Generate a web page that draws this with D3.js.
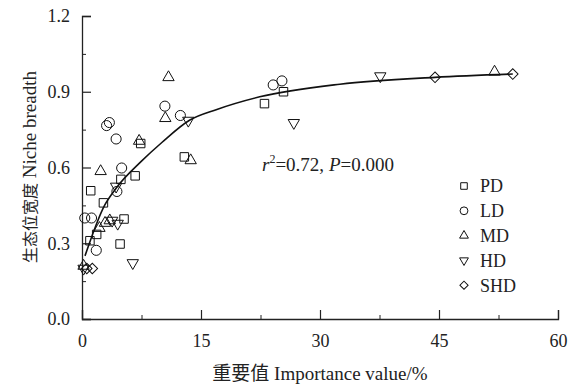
<!DOCTYPE html>
<html><head><meta charset="utf-8">
<script src="https://cdn.jsdelivr.net/npm/d3@7"></script>
<style>body{margin:0;background:#fff}svg{display:block}</style>
</head><body>
<script>
// ---- data ----
const xTicks = [0, 15, 30, 45, 60];
const yTicks = [0.0, 0.3, 0.6, 0.9, 1.2];
const seriesNames = ["PD", "LD", "MD", "HD", "SHD"];
const pd  = [[1.1,0.508],[2.7,0.46],[1.0,0.31],[1.85,0.335],[4.8,0.297],[5.3,0.396],[4.9,0.553],[6.7,0.567],[7.4,0.695],[12.9,0.642],[23.0,0.853],[25.4,0.90]];
const ld  = [[0.35,0.40],[1.2,0.40],[1.8,0.272],[3.1,0.766],[3.45,0.778],[4.3,0.713],[4.4,0.505],[5.0,0.598],[10.45,0.843],[12.4,0.806],[24.1,0.927],[25.2,0.943]];
const md  = [[2.35,0.585],[7.2,0.705],[10.5,0.795],[10.9,0.957],[13.7,0.628],[52.0,0.979],[2.2,0.36],[2.9,0.38],[3.5,0.39],[0.2,0.21]];
const hd  = [[0.2,0.20],[4.3,0.525],[3.8,0.39],[4.5,0.378],[6.4,0.222],[13.4,0.786],[26.7,0.777],[37.6,0.962]];
const shd = [[0.6,0.20],[1.3,0.20],[44.5,0.957],[54.3,0.970]];
const fitX = [0.38, 2.86, 4.3, 7.5, 10.1, 13.6, 17, 22.4, 32.5, 44.5, 54.3];
const fitY = [0.250, 0.451, 0.518, 0.625, 0.700, 0.788, 0.830, 0.880, 0.930, 0.957, 0.970];

const W = 568, H = 387;
const svg = d3.select("body").append("svg").attr("width", W).attr("height", H);
const x = d3.scaleLinear().domain([0, 60]).range([82, 558]);
const y = d3.scaleLinear().domain([0, 1.2]).range([319, 16]);
const font = "'Liberation Serif','Times New Roman','Noto Sans CJK SC',serif";
const ink = "#222";

// axes
const gx = svg.append("g").attr("transform", `translate(0,${y(0)})`)
  .call(d3.axisBottom(x).tickValues(xTicks).tickFormat(d3.format("d")).tickSize(-9).tickPadding(15));
const gy = svg.append("g").attr("transform", `translate(${x(0)},0)`)
  .call(d3.axisLeft(y).tickValues(yTicks).tickFormat(d3.format(".1f")).tickSize(-9).tickPadding(12));
[gx, gy].forEach(g => {
  g.select(".domain").attr("stroke", ink).attr("stroke-width", 1.3);
  g.selectAll(".tick line").attr("stroke", ink).attr("stroke-width", 1.2);
  g.selectAll(".tick text").attr("fill", ink).attr("font-family", font).attr("font-size", 18);
});
// minor ticks
svg.append("g").attr("transform", `translate(0,${y(0)})`)
  .call(d3.axisBottom(x).tickValues([7.5, 22.5, 37.5, 52.5]).tickFormat("").tickSize(-4))
  .call(g => { g.select(".domain").remove(); g.selectAll("line").attr("stroke", ink); });
svg.append("g").attr("transform", `translate(${x(0)},0)`)
  .call(d3.axisLeft(y).tickValues([0.15, 0.45, 0.75, 1.05]).tickFormat("").tickSize(-4))
  .call(g => { g.select(".domain").remove(); g.selectAll("line").attr("stroke", ink); });

// axis titles
svg.append("text").attr("x", 320).attr("y", 380).attr("text-anchor", "middle")
  .attr("font-family", font).attr("font-size", 19).attr("fill", ink).text("重要值 Importance value/%");
const yt = svg.append("text").attr("transform", "translate(36,167) rotate(-90)").attr("text-anchor", "middle")
  .attr("font-family", font).attr("font-size", 19).attr("fill", ink);
yt.append("tspan").attr("font-size", 16).text("生态位宽度");
yt.append("tspan").text(" Niche breadth");

// fit curve
const fit = fitX.map((d, i) => [d, fitY[i]]);
svg.append("path").datum(fit)
  .attr("d", d3.line().x(d => x(d[0])).y(d => y(d[1])).curve(d3.curveMonotoneX))
  .attr("fill", "none").attr("stroke", "#111").attr("stroke-width", 1.6);

// symbols
const sym = {
  PD:  {type: d3.symbolSquare, size: 72, rot: 0},
  LD:  {type: d3.symbolCircle, size: 80, rot: 0},
  MD:  {type: d3.symbolTriangle, size: 56, rot: 0},
  HD:  {type: d3.symbolTriangle, size: 56, rot: 180},
  SHD: {type: d3.symbolSquare, size: 56, rot: 45}
};
const allData = {PD: pd, LD: ld, MD: md, HD: hd, SHD: shd};
seriesNames.forEach(name => {
  const s = sym[name];
  svg.append("g").selectAll("path").data(allData[name]).join("path")
    .attr("d", d3.symbol().type(s.type).size(s.size))
    .attr("transform", d => `translate(${x(d[0])},${y(d[1])}) rotate(${s.rot})`)
    .attr("fill", "none").attr("stroke", "#111").attr("stroke-width", 1);
});

// legend
const lg = svg.append("g");
seriesNames.forEach((name, i) => {
  const s = sym[name];
  const cy = 186 + i * 24.8;
  lg.append("path").attr("d", d3.symbol().type(s.type).size(s.size * 0.6))
    .attr("transform", `translate(464,${cy}) rotate(${s.rot})`)
    .attr("fill", "none").attr("stroke", "#111").attr("stroke-width", 1);
  lg.append("text").attr("x", 480).attr("y", cy).attr("dy", "0.35em")
    .attr("font-family", font).attr("font-size", 18).attr("fill", ink).text(name);
});

// annotation
const ann = svg.append("text").attr("x", 262).attr("y", 171)
  .attr("font-family", font).attr("font-size", 19).attr("fill", ink);
ann.append("tspan").attr("font-style", "italic").text("r");
ann.append("tspan").attr("font-size", 12).attr("dy", -8).text("2");
ann.append("tspan").attr("dy", 8).text("=0.72, ");
ann.append("tspan").attr("font-style", "italic").text("P");
ann.append("tspan").text("=0.000");
</script>
</body></html>
